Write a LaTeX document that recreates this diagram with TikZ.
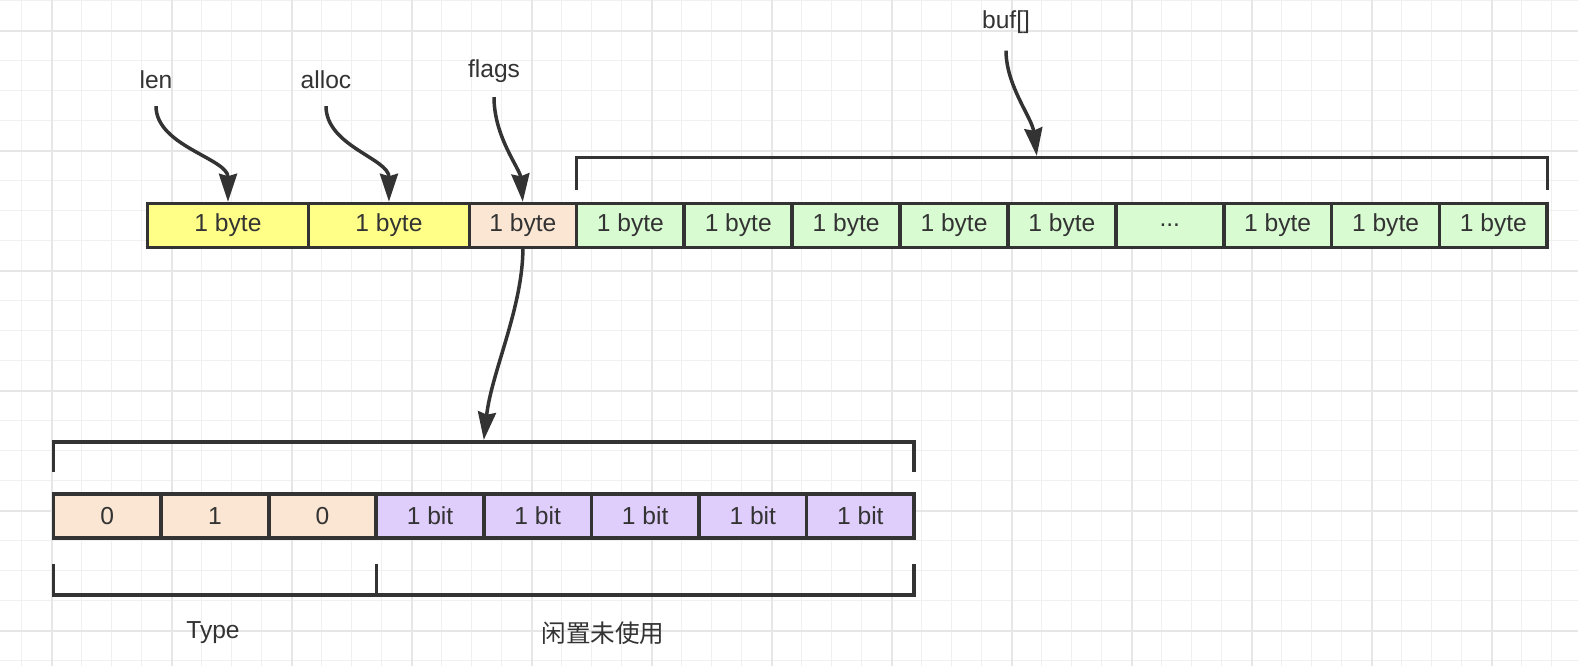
\documentclass[tikz,border=0pt]{standalone}
\usepackage{fontspec}
\setmainfont{Liberation Sans}
\newfontfamily\cjk{Noto Sans CJK SC}
\usepackage{xcolor}
\usepackage{tikz}
\usetikzlibrary{arrows.meta, positioning}

\definecolor{ink}{HTML}{333333}
\definecolor{lenfill}{HTML}{FFFF88}
\definecolor{flagfill}{HTML}{FAE6D2}
\definecolor{buffill}{HTML}{D8FBD2}
\definecolor{bitfill}{HTML}{DFCEFB}
\definecolor{gridminor}{HTML}{F0F0F0}
\definecolor{gridmajor}{HTML}{E6E6E6}
\newcommand\bufgap{...}

\begin{document}
\begin{tikzpicture}[
    x=0.02cm, y=-0.02cm,
    font=\fontsize{14}{16}\selectfont,
    cell/.style={rectangle, draw=ink, line width=0.075cm, outer sep=0pt, inner sep=0pt, minimum height=0.88cm, text=ink},
    bytecell/.style={cell, minimum width=2.158cm},
    bitcell/.style={cell, minimum width=2.152cm},
    lbl/.style={inner sep=1pt, text=ink},
    bracket/.style={draw=ink, line width=0.07cm},
    arrow/.style={-{Stealth[length=0.56cm, width=0.36cm, inset=0.05cm]}, draw=ink, line width=0.07cm, shorten >=1pt}
]
% background grid
\useasboundingbox (0,0) rectangle (1578,666);
\fill[white] (0,0) rectangle (1578,666);
\foreach \gx in {21.7,51.7,...,1578}
    \draw[gridminor, line width=0.03cm] (\gx,0) -- (\gx,666);
\foreach \gy in {0.7,30.7,...,666}
    \draw[gridminor, line width=0.03cm] (0,\gy) -- (1578,\gy);
\foreach \gx in {51.7,171.7,...,1578}
    \draw[gridmajor, line width=0.04cm] (\gx,0) -- (\gx,666);
\foreach \gy in {30.7,150.7,...,666}
    \draw[gridmajor, line width=0.04cm] (0,\gy) -- (1578,\gy);

% header bytes
\node[cell, minimum width=3.22cm, fill=lenfill] (lenbyte) at (228,225.5) {1 byte};
\node[cell, minimum width=3.22cm, fill=lenfill, right=0pt of lenbyte] (allocbyte) {1 byte};
\node[cell, minimum width=2.14cm, fill=flagfill, right=0pt of allocbyte] (flagsbyte) {1 byte};

% buf bytes
\node[bytecell, fill=buffill, right=0pt of flagsbyte] (buf1) {1 byte};
\foreach \i/\t in {2/1 byte, 3/1 byte, 4/1 byte, 5/1 byte, 6/\bufgap, 7/1 byte, 8/1 byte, 9/1 byte} {
    \pgfmathtruncatemacro\prev{\i-1}
    \node[bytecell, fill=buffill, right=0pt of buf\prev] (buf\i) {\t};
}

% flags bits
\node[bitcell, fill=flagfill] (bit1) at (107.3,515.8) {0};
\foreach \i/\t/\c in {2/1/flagfill, 3/0/flagfill, 4/1 bit/bitfill, 5/1 bit/bitfill, 6/1 bit/bitfill, 7/1 bit/bitfill, 8/1 bit/bitfill} {
    \pgfmathtruncatemacro\prev{\i-1}
    \node[bitcell, fill=\c, right=0pt of bit\prev] (bit\i) {\t};
}

% brackets
\draw[bracket] ([yshift=0.27cm]buf1.north west) -- ++(0,-32.5) -| ([yshift=0.27cm]buf9.north east);
\coordinate (bufhead) at (1037,157.7);
\draw[bracket] ([yshift=0.44cm]bit1.north west) -- ++(0,-30) -| ([yshift=0.44cm]bit8.north east);
\coordinate (bithead) at (483.6,441.7);
\draw[bracket] ([yshift=-0.52cm]bit1.south west) -- ++(0,31) -| ([yshift=-0.52cm]bit3.south east);
\draw[bracket] ([yshift=-0.52cm]bit4.south west) -- ++(0,31) -| ([yshift=-0.52cm]bit8.south east);

% labels
\node[lbl] (len) at (156,80) {len};
\node[lbl] (alloc) at (326,80) {alloc};
\node[lbl] (flags) at (494,71) {flags};
\node[lbl] (buf) at (1006,22) {buf[]};
\node[lbl] (typelbl) at (213,633) {Type};
\node[lbl] (freelbl) at (603,633) {\cjk 闲置未使用};

% arrows
\draw[arrow] ([yshift=-0.3cm]len.south) .. controls +(0,40) and +(0,-45) .. (lenbyte.north);
\draw[arrow] ([yshift=-0.3cm]alloc.south) .. controls +(0,40) and +(0,-45) .. (allocbyte.north);
\draw[arrow] ([yshift=-0.25cm]flags.south) .. controls +(0,40) and +(-3,-35) .. (flagsbyte.north);
\draw[arrow] ([yshift=-0.3cm]buf.south) .. controls +(0,35) and +(-5,-40) .. (bufhead);
\draw[arrow] (flagsbyte.south) .. controls +(0,60) and +(8,-70) .. (bithead);
\end{tikzpicture}
\end{document}
